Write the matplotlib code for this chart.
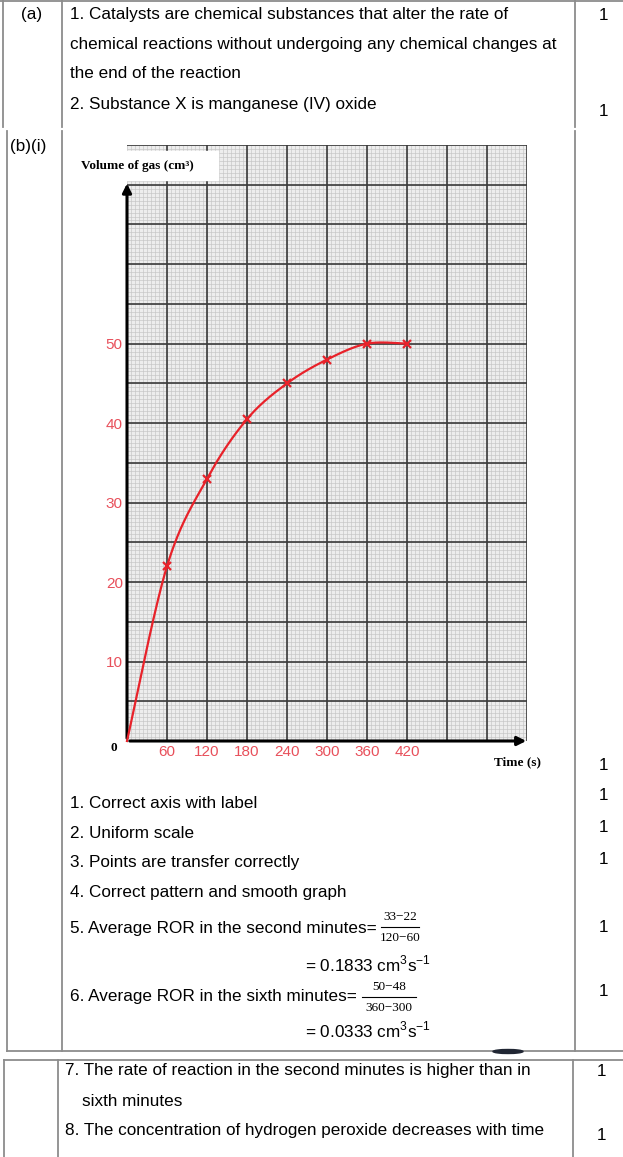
import numpy as np
import matplotlib
matplotlib.use('Agg')
import matplotlib.pyplot as plt
from matplotlib.patches import Ellipse, Rectangle

plt.rcParams['font.family'] = ['Liberation Sans', 'DejaVu Sans']
plt.rcParams['mathtext.fontset'] = 'custom'
plt.rcParams['mathtext.rm'] = 'Liberation Sans'

# values
time_s = [0, 60, 120, 180, 240, 300, 360, 420]
volume = [0, 22, 33, 40.5, 45, 48, 50, 50]
x_ticks = [60, 120, 180, 240, 300, 360, 420]
y_ticks = [10, 20, 30, 40, 50]

part_a = ["1. Catalysts are chemical substances that alter the rate of",
          "chemical reactions without undergoing any chemical changes at",
          "the end of the reaction",
          "2. Substance X is manganese (IV) oxide"]
part_b = ["1. Correct axis with label",
          "2. Uniform scale",
          "3. Points are transfer correctly",
          "4. Correct pattern and smooth graph",
          "5. Average ROR in the second minutes=",
          r"= 0.1833 cm$^{3}$s$^{-1}$",
          "6. Average ROR in the sixth minutes=",
          r"= 0.0333 cm$^{3}$s$^{-1}$"]
part_c = ["7. The rate of reaction in the second minutes is higher than in",
          "sixth minutes",
          "8. The concentration of hydrogen peroxide decreases with time"]
fractions = [("33\u221222", "120\u221260"), ("50\u221248", "360\u2212300")]

W, H = 623, 1157
fig = plt.figure(figsize=(W / 100, H / 100), dpi=100)

# ---- graph paper
gx = fig.add_axes([127 / W, (H - 741) / H, 400 / W, 596 / H])
gx.set_xlim(0, 600)
gx.set_ylim(0, 75)
gx.set_facecolor('#ededed')
for s in gx.spines.values():
    s.set_visible(False)
gx.vlines(np.arange(0, 601, 6), 0, 75, color='#c4c4c4', lw=0.45, zorder=1)
gx.hlines(np.arange(0, 75.1, 0.5), 0, 600, color='#c4c4c4', lw=0.45, zorder=1)
gx.vlines(np.arange(60, 601, 60), 0, 75, color='#3a3a3a', lw=1.2, zorder=2)
gx.hlines(np.arange(5, 75.1, 5), 0, 600, color='#3a3a3a', lw=1.2, zorder=2)

gx.set_xticks(x_ticks)
gx.set_xticklabels([str(v) for v in x_ticks])
gx.set_yticks(y_ticks)
gx.set_yticklabels([str(v) for v in y_ticks])
gx.tick_params(length=0, labelsize=11, labelcolor='#e8505b', pad=3)

# axes arrows
gx.annotate('', xy=(0, 70.5), xytext=(0, 0), annotation_clip=False,
            arrowprops=dict(arrowstyle='-|>', color='black', lw=2.2, mutation_scale=13))
gx.annotate('', xy=(603, 0), xytext=(0, 0), annotation_clip=False,
            arrowprops=dict(arrowstyle='-|>', color='black', lw=2.2, mutation_scale=13))


def catmull(xs, ys, n=40):
    p = np.column_stack([xs, ys]).astype(float)
    p = np.vstack([p[0], p, p[-1]])
    t = np.linspace(0, 1, n)[:, None]
    segs = []
    for i in range(1, len(p) - 2):
        p0, p1, p2, p3 = p[i - 1], p[i], p[i + 1], p[i + 2]
        segs.append(0.5 * (2 * p1 + (-p0 + p2) * t + (2 * p0 - 5 * p1 + 4 * p2 - p3) * t ** 2
                           + (-p0 + 3 * p1 - 3 * p2 + p3) * t ** 3))
    return np.vstack(segs)


curve = catmull(time_s, volume)
gx.plot(curve[:, 0], curve[:, 1], color='#e8222a', lw=1.6, zorder=5, clip_on=False)
gx.plot(time_s[1:], volume[1:], ls='none', marker='x', ms=6, mew=1.6, color='#e8222a', zorder=6)

# ---- overlay for the table
ov = fig.add_axes([0, 0, 1, 1])
ov.set_xlim(0, W)
ov.set_ylim(H, 0)
ov.axis('off')
ov.patch.set_alpha(0)

lc = '#8c8c8c'
lw = 1.3
# part (a)
ov.plot([0, W], [0.7, 0.7], color=lc, lw=lw)
for x in (3, 62, 575):
    ov.plot([x, x], [0, 127], color=lc, lw=lw)
# part (b)
for x in (7, 62, 575):
    ov.plot([x, x], [131, 1051], color=lc, lw=lw)
ov.plot([7, W], [1051, 1051], color=lc, lw=lw)
ov.add_patch(Ellipse((508, 1051.5), 30, 4, color='#202633', zorder=5))
# part (c)
ov.plot([4, W], [1060, 1060], color=lc, lw=lw)
for x in (4, 58, 573):
    ov.plot([x, x], [1060, H], color=lc, lw=lw)

fs = 12.3
ov.text(32, 15, "(a)", fontsize=fs, ha='center', va='center')
for txt, y in zip(part_a, [15, 45, 74, 104]):
    ov.text(70, y, txt, fontsize=fs, va='center')
ov.text(603, 15, "1", fontsize=fs, ha='center', va='center')
ov.text(603, 111, "1", fontsize=fs, ha='center', va='center')

ov.text(28, 146, "(b)(i)", fontsize=fs, ha='center', va='center')

b_pos = [(70, 803), (70, 833), (70, 863), (70, 893), (70, 928), (305, 964), (70, 997), (305, 1030)]
for txt, (x, y) in zip(part_b, b_pos):
    ov.text(x, y, txt, fontsize=fs, va='center')
for y in (766, 796, 828, 860, 928, 991):
    ov.text(603, y, "1", fontsize=fs, ha='center', va='center')

for (num, den), (xc, yc, half) in zip(fractions, [(400, 927, 19), (389, 997, 27)]):
    ov.text(xc, yc - 10, num, fontsize=9.5, family=['Liberation Serif'], ha='center', va='center')
    ov.text(xc, yc + 11, den, fontsize=9.5, family=['Liberation Serif'], ha='center', va='center')
    ov.plot([xc - half, xc + half], [yc, yc], color='black', lw=0.8)

for txt, (x, y) in zip(part_c, [(65, 1071), (82, 1101), (65, 1131)]):
    ov.text(x, y, txt, fontsize=fs, va='center')
ov.text(601, 1071, "1", fontsize=fs, ha='center', va='center')
ov.text(601, 1135, "1", fontsize=fs, ha='center', va='center')

# graph labels
ov.add_patch(Rectangle((78, 151), 140, 29, color='white', zorder=3))
ov.text(81, 166, "Volume of gas (cm\u00b3)", fontsize=9.5, fontweight='bold',
        family=['Liberation Serif'], va='center', zorder=4)
ov.text(114, 748, "0", fontsize=9.5, fontweight='bold', family=['Liberation Serif'],
        ha='center', va='center')
ov.text(517, 762, "Time (s)", fontsize=9.5, fontweight='bold', family=['Liberation Serif'],
        ha='center', va='center')

fig.savefig('out.png', dpi=100)
